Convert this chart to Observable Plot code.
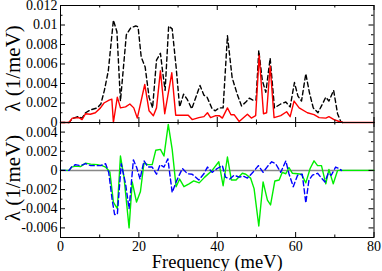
<!DOCTYPE html>
<html><head><meta charset="utf-8">
<script src="https://cdn.jsdelivr.net/npm/d3@7"></script>
<script src="https://cdn.jsdelivr.net/npm/@observablehq/plot@0.6"></script>
<style>
body{margin:0;background:#fff}
#c svg{display:block;overflow:visible;background:transparent}
#c svg, #c svg text{font-family:"Liberation Serif","Times New Roman",serif !important}
</style>
</head><body><div id="c"></div>
<script>
// [frequency meV, lambda 1/meV]
const totalDashed = [[0,0],[2.2,0],[3,0.0004],[4.5,0.0006],[5.5,0.00045],[6.4,0.001],[7.7,0.0013],[9.4,0.0015],[10.3,0.0019],[11.2,0.0033],[12.2,0.0053],[13.5,0.0105],[14.4,0.0093],[15.3,0.0022],[16.8,0.009],[17.9,0.0097],[19.2,0.0099],[19.8,0.0098],[20.6,0.0067],[21.6,0.0057],[22.6,0.0026],[23.5,0.0015],[24.5,0.0064],[25.5,0.0071],[26.1,0.0051],[26.7,0.0033],[27.6,0.0099],[28.5,0.0096],[29.5,0.0057],[30.4,0.0016],[31.4,0.0029],[32.3,0.0024],[33.5,0.0014],[35.6,0.0038],[36.6,0.0028],[37.4,0.0026],[38.7,0.0014],[39.5,0.0012],[40.5,0.0015],[41.5,0.0015],[42.6,0.0089],[43.8,0.0046],[45.1,0.0029],[46.2,0.0017],[47.3,0.0021],[48.2,0.0025],[49.1,0.0023],[49.9,0.0023],[50.6,0.0074],[51.5,0.0043],[52.4,0.0031],[53.5,0.0066],[54.6,0.0015],[56.2,0.0019],[57.5,0.0021],[58.6,0.0016],[59.7,0.0041],[60.6,0.0027],[61.5,0.0022],[62.6,0.005],[63.5,0.0031],[64.5,0.0015],[65.7,0.001],[66.6,0.0017],[67.7,0.0026],[68.5,0.0022],[69.7,0.0033],[70.7,0.0009],[71.5,0.0001],[72,0]];
const redSolid = [[0,0],[2.2,0],[3,0.00045],[4.7,0.0005],[5.5,0.0003],[6.4,0.0009],[7.6,0.00085],[8.9,0.001],[10.2,0.0015],[11.1,0.002],[12.4,0.0023],[13.1,0.0024],[13.5,0],[14.5,0.0026],[15.3,0.0015],[16.6,0.0016],[17.7,0.0019],[18.7,0.0015],[19.6,0.00045],[21.5,0.0039],[22.6,0.0012],[23.7,0.0007],[24.5,0.0015],[25.5,0.0053],[26.6,0.0009],[28.4,0.0051],[29.4,0.00075],[30.7,0.00075],[32.6,0.00075],[33.6,0.0003],[35.3,0.0005],[36.6,0.0006],[37.5,0.001],[38.3,0.0005],[39.6,0.0007],[40.5,0.0007],[41.3,0.00045],[42.6,0.0015],[43.5,0.0008],[44.3,0.0008],[45.6,0.0001],[47.7,0.00085],[48.7,0.00045],[49.8,0.0007],[50.7,0.0069],[51.8,0.0009],[52.6,0.001],[53.5,0.0058],[54.5,0.0005],[56.2,0.0007],[57.7,0.0011],[58.6,0.0006],[59.6,0.0022],[60.9,0.0015],[63,0.001],[64.7,0.0008],[66,0.0005],[67.7,0.00045],[68.5,0.0006],[69.8,0.0003],[71.1,0.0001],[72,0],[80,0]];
const greenSolid = [[0,0],[2.2,0],[2.8,0.00035],[3.9,0.00045],[5.1,0.0004],[6.4,0.00076],[7.7,0.00066],[9.4,0.0006],[10.6,0.0005],[11.5,0.00035],[12.6,-0.00017],[13.5,-0.0033],[14.5,-0.004],[15.3,0.0015],[16.2,-0.0007],[17.5,-0.006],[18.3,-0.0012],[19.4,-0.0033],[20.4,-0.0022],[21.3,0.00076],[22.3,0.0006],[23.4,0.0006],[24.3,0.0021],[25.5,0.0022],[26.4,0.0015],[27.5,0.0048],[28.5,0.0022],[29.5,-0.0017],[30.4,-0.0009],[31.5,-0.0017],[32.8,-0.0014],[34,-0.0011],[35.4,-0.0013],[36.8,-0.0007],[38.7,0],[40.4,0.0009],[41.5,-0.0016],[42.6,0.0014],[43.6,-0.001],[44.8,-0.001],[46.4,-0.0003],[47.3,-0.0004],[48.5,-0.0008],[49.4,-0.0019],[50.6,-0.0058],[51.7,-0.0012],[52.8,-0.0031],[53.6,-0.0036],[54.7,-0.0011],[55.8,-0.001],[56.6,-0.0002],[57.5,-0.00035],[58.3,0.0003],[59.2,-0.0003],[60.5,-0.00035],[61.5,-0.0004],[62.6,-0.0013],[63.7,0.0002],[64.7,0.001],[65.6,0.0005],[66.6,0.0005],[67.7,-0.0014],[68.5,0.0001],[69.6,-0.0014],[70.7,0],[80,0]];
const blueDashed = [[0,0],[2.2,0],[2.8,0.00035],[3.8,0.0006],[5.1,0.0005],[6.4,0.0007],[7.7,0.0005],[8.9,0.0005],[10.2,0.0005],[11.5,0.0007],[12.3,-0.0002],[13.2,-0.0031],[13.8,-0.0046],[14.5,-0.0046],[15.5,0.0007],[16.6,-0.0014],[17.5,-0.004],[18.6,0.0011],[19.4,0.00035],[20.3,-0.0009],[21.3,0.001],[22.3,0.00035],[23.4,0.00035],[24.5,-0.0004],[25.4,0.0006],[26.4,0.00035],[27.4,0.0012],[28.5,-0.0023],[29.5,-0.0012],[31.1,0.0002],[32.4,-0.00035],[33.6,-0.0004],[35.3,-0.001],[36.6,-0.00035],[37.5,0.00035],[38.7,-0.0002],[40,0.0002],[41.3,0.0005],[42.1,-0.0007],[43.2,-0.0009],[44.3,-0.0005],[45.6,-0.0007],[46.6,-0.0006],[47.7,-0.0008],[49.1,-0.0002],[50.5,0.0005],[51.7,-0.0002],[52.8,0.0004],[53.9,0.0009],[54.9,0.0007],[56.2,-0.0002],[57.5,0.001],[58.3,-0.00035],[59.4,-0.0017],[60.5,-0.0005],[61.7,-0.0004],[62.6,-0.0034],[63.4,-0.001],[64.3,-0.0005],[65.6,-0.0003],[66.4,-0.0007],[67.5,-0.0012],[68.3,-0.0003],[69.1,-0.0005],[70.2,0.00035],[71.1,0.0002],[71.7,0]];

const xMajor = [0,20,40,60,80], xMinor = [10,30,50,70];
const topMajor = [0,0.002,0.004,0.006,0.008,0.01,0.012];
const topMinor = [0.001,0.003,0.005,0.007,0.009,0.011];
const botMajor = [-0.006,-0.004,-0.002,0,0.002,0.004];
const botMinor = [-0.007,-0.005,-0.003,-0.001,0.001,0.003,0.005];
const xLabel = "Frequency (meV)", yLabel = "λ (1/meV)";

const W = 382, ML = 60, MR = 8.5, FW = W - ML - MR;
const FONT = "Liberation Serif";
const fmt = d => String(+d.toFixed(3));

function tickMarks(yMaj, yMin, FH) {
  const m = [];
  const sw = {stroke: "black", strokeWidth: 1};
  m.push(Plot.tickY(yMaj, {y: d => d, ...sw, insetRight: FW - 5}));
  m.push(Plot.tickY(yMaj, {y: d => d, ...sw, insetLeft: FW - 5}));
  m.push(Plot.tickY(yMin, {y: d => d, ...sw, insetRight: FW - 2.5}));
  m.push(Plot.tickY(yMin, {y: d => d, ...sw, insetLeft: FW - 2.5}));
  m.push(Plot.tickX(xMajor, {x: d => d, ...sw, insetBottom: FH - 5}));
  m.push(Plot.tickX(xMajor, {x: d => d, ...sw, insetTop: FH - 5}));
  m.push(Plot.tickX(xMinor, {x: d => d, ...sw, insetBottom: FH - 2.5}));
  m.push(Plot.tickX(xMinor, {x: d => d, ...sw, insetTop: FH - 2.5}));
  return m;
}

const topH = 122, topMT = 5, topMB = 0;
const topPlot = Plot.plot({
  width: W, height: topH, marginLeft: ML, marginRight: MR, marginTop: topMT, marginBottom: topMB,
  style: {background: "transparent", overflow: "visible"},
  x: {domain: [0, 80]},
  y: {domain: [0, 0.012]},
  marks: [
    Plot.line(totalDashed, {x: d => d[0], y: d => d[1], stroke: "black", strokeWidth: 1.4, strokeDasharray: "4.5,3"}),
    Plot.line(redSolid, {x: d => d[0], y: d => d[1], stroke: "#ff0000", strokeWidth: 1.4}),
    ...tickMarks(topMajor, topMinor, topH - topMT - topMB),
    Plot.axisY(topMajor, {tickSize: 0, tickPadding: 3, tickFormat: fmt, fontSize: 14, fontFamily: FONT, fill: "black", label: null}),
    Plot.axisX([], {tickSize: 0, label: null}),
    Plot.text([yLabel], {frameAnchor: "left", textAnchor: "middle", dx: -40.5, dy: 4.5, rotate: -90, lineAnchor: "bottom", fontSize: 21, fontFamily: FONT, fill: "black"}),
    Plot.frame({stroke: "black", strokeWidth: 1})
  ]
});

const botH = 149, botMT = 0, botMB = 34;
const botPlot = Plot.plot({
  width: W, height: botH, marginLeft: ML, marginRight: MR, marginTop: botMT, marginBottom: botMB,
  style: {background: "transparent", overflow: "visible"},
  x: {domain: [0, 80]},
  y: {domain: [-0.007, 0.005]},
  marks: [
    Plot.ruleY([0], {stroke: "#888", strokeWidth: 1.5}),
    Plot.line(greenSolid, {x: d => d[0], y: d => d[1], stroke: "#00ee00", strokeWidth: 1.4}),
    Plot.line(blueDashed, {x: d => d[0], y: d => d[1], stroke: "#0000ff", strokeWidth: 1.4, strokeDasharray: "5,3"}),
    ...tickMarks(botMajor, botMinor, botH - botMT - botMB),
    Plot.axisY(botMajor, {tickSize: 0, tickPadding: 3, tickFormat: fmt, fontSize: 14, fontFamily: FONT, fill: "black", label: null}),
    Plot.axisX(xMajor, {tickSize: 0, tickPadding: 3.5, tickFormat: d => String(d), fontSize: 14, fontFamily: FONT, fill: "black", label: null}),
    Plot.text([xLabel], {frameAnchor: "bottom", textAnchor: "middle", dy: 30.5, lineAnchor: "bottom", fontSize: 18.5, fontFamily: FONT, fill: "black"}),
    Plot.text([yLabel], {frameAnchor: "left", textAnchor: "middle", dx: -40.5, dy: -2, rotate: -90, lineAnchor: "bottom", fontSize: 21, fontFamily: FONT, fill: "black"}),
    Plot.frame({stroke: "black", strokeWidth: 1})
  ]
});

const c = document.getElementById("c");
c.appendChild(topPlot);
c.appendChild(botPlot);
</script>
</body></html>
